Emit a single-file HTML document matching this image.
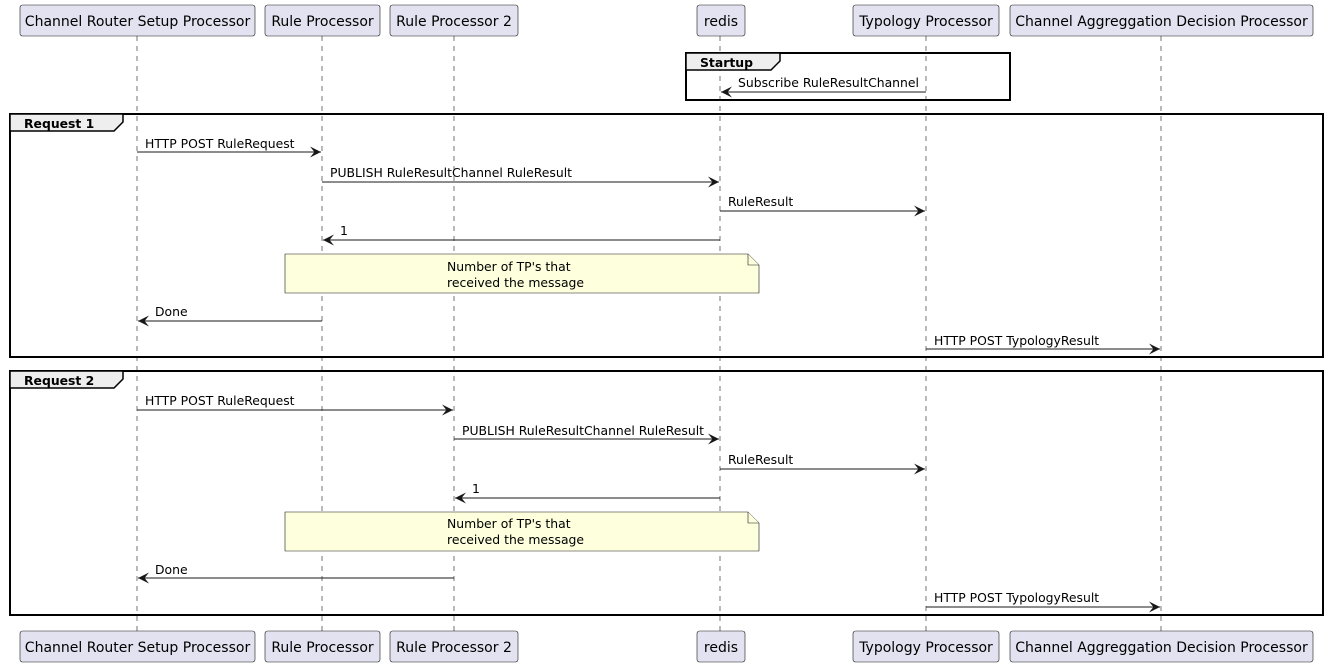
<!DOCTYPE html>
<html><head><meta charset="utf-8"><style>
html,body{margin:0;padding:0;background:#fff;}
svg{display:block;font-family:"DejaVu Sans","Liberation Sans",sans-serif;}
.p{fill:#E2E2F0;stroke:#181818;stroke-width:0.6;}
.pt{font-size:14px;fill:#000;text-anchor:middle;}
.ll{stroke:#181818;stroke-width:0.6;stroke-dasharray:5,5;}
.m{stroke:#181818;stroke-width:1;}
.mt{font-size:12.4px;fill:#000;}
.fr{fill:none;stroke:#000;stroke-width:2;}
.tab{fill:#EEEEEE;stroke:#000;stroke-width:1.5;}
.ft{font-size:12.4px;font-weight:bold;fill:#000;}
.note{fill:#FEFFDD;stroke:#181818;stroke-width:0.6;}
</style></head><body>
<svg width="1328" height="667" viewBox="0 0 1328 667" xmlns="http://www.w3.org/2000/svg">
<defs>
<marker id="a" viewBox="0 0 10 10" refX="10" refY="5" markerWidth="11" markerHeight="11" markerUnits="userSpaceOnUse" orient="auto">
<path d="M0,0 L10,5 L0,10 L4,5 Z" fill="#181818"/></marker>
</defs>
<g class="ll">
<line x1="137" y1="36" x2="137" y2="631"/>
<line x1="322" y1="36" x2="322" y2="631"/>
<line x1="454" y1="36" x2="454" y2="631"/>
<line x1="720" y1="36" x2="720" y2="631"/>
<line x1="926" y1="36" x2="926" y2="631"/>
<line x1="1161" y1="36" x2="1161" y2="631"/>
</g>
<g>
<rect class="p" x="20" y="5" width="235" height="31" rx="2.5"/><text class="pt" x="137.5" y="26">Channel Router Setup Processor</text>
<rect class="p" x="265" y="5" width="115" height="31" rx="2.5"/><text class="pt" x="322.5" y="26">Rule Processor</text>
<rect class="p" x="390" y="5" width="128" height="31" rx="2.5"/><text class="pt" x="454" y="26">Rule Processor 2</text>
<rect class="p" x="697" y="5" width="48" height="31" rx="2.5"/><text class="pt" x="721" y="26">redis</text>
<rect class="p" x="853" y="5" width="146" height="31" rx="2.5"/><text class="pt" x="926" y="26">Typology Processor</text>
<rect class="p" x="1010" y="5" width="303" height="31" rx="2.5"/><text class="pt" x="1161.5" y="26">Channel Aggreggation Decision Processor</text>

<rect class="p" x="20" y="631" width="235" height="31" rx="2.5"/><text class="pt" x="137.5" y="652">Channel Router Setup Processor</text>
<rect class="p" x="265" y="631" width="115" height="31" rx="2.5"/><text class="pt" x="322.5" y="652">Rule Processor</text>
<rect class="p" x="390" y="631" width="128" height="31" rx="2.5"/><text class="pt" x="454" y="652">Rule Processor 2</text>
<rect class="p" x="697" y="631" width="48" height="31" rx="2.5"/><text class="pt" x="721" y="652">redis</text>
<rect class="p" x="853" y="631" width="146" height="31" rx="2.5"/><text class="pt" x="926" y="652">Typology Processor</text>
<rect class="p" x="1010" y="631" width="303" height="31" rx="2.5"/><text class="pt" x="1161.5" y="652">Channel Aggreggation Decision Processor</text>
</g>
<rect class="fr" x="686" y="53" width="324" height="47"/>
<path class="tab" d="M686,53 L780,53 L780,61 L771,70 L686,70 Z"/>
<text class="ft" x="700" y="67">Startup</text>
<line class="m" x1="926" y1="92" x2="721" y2="92" marker-end="url(#a)"/>
<text class="mt" x="738" y="87">Subscribe RuleResultChannel</text>

<rect class="fr" x="10" y="114" width="1313" height="243"/>
<path class="tab" d="M10,114 L123,114 L123,122 L114,131 L10,131 Z"/>
<text class="ft" x="24" y="128">Request 1</text>
<line class="m" x1="137" y1="152" x2="321" y2="152" marker-end="url(#a)"/>
<text class="mt" x="145" y="148">HTTP POST RuleRequest</text>
<line class="m" x1="322" y1="182" x2="719" y2="182" marker-end="url(#a)"/>
<text class="mt" x="330" y="177">PUBLISH RuleResultChannel RuleResult</text>
<line class="m" x1="720" y1="211" x2="925" y2="211" marker-end="url(#a)"/>
<text class="mt" x="728" y="206">RuleResult</text>
<line class="m" x1="720" y1="240" x2="323" y2="240" marker-end="url(#a)"/>
<text class="mt" x="340" y="235">1</text>
<path class="note" d="M285,254 L748,254 L759,265 L759,293 L285,293 Z"/>
<path class="note" d="M748,254 L748,265 L759,265" fill="none"/>
<text class="mt" x="447" y="271">Number of TP's that</text>
<text class="mt" x="447" y="287">received the message</text>
<line class="m" x1="322" y1="321" x2="138" y2="321" marker-end="url(#a)"/>
<text class="mt" x="155" y="316">Done</text>
<line class="m" x1="926" y1="349" x2="1160" y2="349" marker-end="url(#a)"/>
<text class="mt" x="934" y="345">HTTP POST TypologyResult</text>

<rect class="fr" x="10" y="371" width="1313" height="244"/>
<path class="tab" d="M10,371 L123,371 L123,379 L114,388 L10,388 Z"/>
<text class="ft" x="24" y="385">Request 2</text>
<line class="m" x1="137" y1="410" x2="453" y2="410" marker-end="url(#a)"/>
<text class="mt" x="145" y="405">HTTP POST RuleRequest</text>
<line class="m" x1="454" y1="439" x2="719" y2="439" marker-end="url(#a)"/>
<text class="mt" x="462" y="435">PUBLISH RuleResultChannel RuleResult</text>
<line class="m" x1="720" y1="469" x2="925" y2="469" marker-end="url(#a)"/>
<text class="mt" x="728" y="464">RuleResult</text>
<line class="m" x1="720" y1="498" x2="455" y2="498" marker-end="url(#a)"/>
<text class="mt" x="472" y="493">1</text>
<path class="note" d="M285,512 L748,512 L759,523 L759,551 L285,551 Z"/>
<path class="note" d="M748,512 L748,523 L759,523" fill="none"/>
<text class="mt" x="447" y="528">Number of TP's that</text>
<text class="mt" x="447" y="544">received the message</text>
<line class="m" x1="454" y1="578" x2="138" y2="578" marker-end="url(#a)"/>
<text class="mt" x="155" y="574">Done</text>
<line class="m" x1="926" y1="607" x2="1160" y2="607" marker-end="url(#a)"/>
<text class="mt" x="934" y="602">HTTP POST TypologyResult</text>
</svg>
</body></html>
